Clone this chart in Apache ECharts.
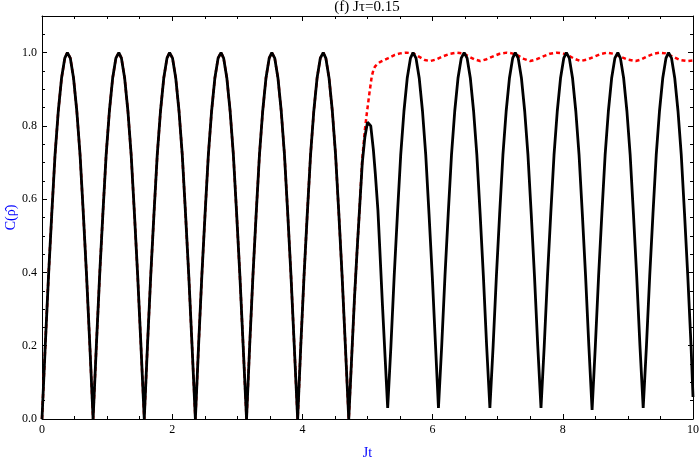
<!DOCTYPE html>
<html>
<head>
<meta charset="utf-8">
<script src="https://cdn.jsdelivr.net/npm/echarts@6/dist/echarts.min.js"></script>
<style>html,body{margin:0;padding:0;background:#fff;}#c{width:700px;height:457px;}</style>
</head>
<body>
<div id="c"></div>
<script>
// ---- data ----
var titleText = "(f) J\u03c4=0.15";
var xName = "Jt";
var yName = "C(\u03c1\u0302)";
var xTicks = [0, 2, 4, 6, 8, 10];
var yTicks = [0.0, 0.2, 0.4, 0.6, 0.8, 1.0];

// black solid curve: x positions and values
var blackX = [
  0, 0.05, 0.10, 0.15, 0.20, 0.25, 0.30, 0.35, 0.39, 0.435, 0.485, 0.535, 0.585, 0.635, 0.685, 0.735,
  0.785, 0.835, 0.885, 0.935, 0.985, 1.035, 1.085, 1.135, 1.18, 1.22, 1.27, 1.32, 1.37, 1.42, 1.47, 1.52,
  1.571, 1.62, 1.67, 1.72, 1.77, 1.82, 1.87, 1.92, 1.96, 2.005, 2.055, 2.105, 2.155, 2.205, 2.255, 2.305,
  2.356, 2.405, 2.455, 2.505, 2.555, 2.605, 2.655, 2.705, 2.75, 2.79, 2.84, 2.89, 2.94, 2.99, 3.04, 3.09,
  3.142, 3.19, 3.24, 3.29, 3.34, 3.39, 3.44, 3.49, 3.53, 3.575, 3.625, 3.675, 3.725, 3.775, 3.825, 3.875,
  3.927, 3.975, 4.025, 4.075, 4.125, 4.175, 4.225, 4.275, 4.32, 4.36, 4.41, 4.46, 4.51, 4.56, 4.61, 4.66,
  4.712, 4.76, 4.80, 4.84, 4.88, 4.92, 4.96, 5.00, 5.02, 5.05, 5.09, 5.12, 5.16, 5.19, 5.23, 5.27,
  5.31, 5.36, 5.41, 5.46, 5.51, 5.56, 5.61, 5.66, 5.70, 5.745, 5.795, 5.845, 5.895, 5.945, 5.995, 6.045,
  6.09, 6.14, 6.19, 6.24, 6.29, 6.34, 6.39, 6.44, 6.485, 6.53, 6.58, 6.63, 6.68, 6.73, 6.78, 6.83,
  6.88, 6.93, 6.98, 7.03, 7.08, 7.13, 7.18, 7.23, 7.27, 7.315, 7.365, 7.415, 7.465, 7.515, 7.565, 7.615,
  7.665, 7.715, 7.765, 7.815, 7.865, 7.915, 7.965, 8.015, 8.055, 8.10, 8.15, 8.20, 8.25, 8.30, 8.35, 8.40,
  8.45, 8.50, 8.55, 8.60, 8.65, 8.70, 8.75, 8.80, 8.845, 8.885, 8.935, 8.985, 9.035, 9.085, 9.135, 9.185,
  9.235, 9.285, 9.335, 9.385, 9.435, 9.485, 9.535, 9.585, 9.625, 9.67, 9.72, 9.77, 9.82, 9.87, 9.92, 9.97,
  10.0
];
var blackY = [
  0, 0.20, 0.39, 0.56, 0.72, 0.84, 0.93, 0.985, 1.0, 0.985, 0.93, 0.84, 0.72, 0.56, 0.39, 0.20,
  0, 0.20, 0.39, 0.56, 0.72, 0.84, 0.93, 0.985, 1.0, 0.985, 0.93, 0.84, 0.72, 0.56, 0.39, 0.20,
  0, 0.20, 0.39, 0.56, 0.72, 0.84, 0.93, 0.985, 1.0, 0.985, 0.93, 0.84, 0.72, 0.56, 0.39, 0.20,
  0, 0.20, 0.39, 0.56, 0.72, 0.84, 0.93, 0.985, 1.0, 0.985, 0.93, 0.84, 0.72, 0.56, 0.39, 0.20,
  0, 0.20, 0.39, 0.56, 0.72, 0.84, 0.93, 0.985, 1.0, 0.985, 0.93, 0.84, 0.72, 0.56, 0.39, 0.20,
  0, 0.20, 0.39, 0.56, 0.72, 0.84, 0.93, 0.985, 1.0, 0.985, 0.93, 0.84, 0.72, 0.56, 0.39, 0.20,
  0, 0.18, 0.33, 0.46, 0.58, 0.70, 0.77, 0.81, 0.815, 0.80, 0.735, 0.67, 0.57, 0.46, 0.31, 0.17,
  0.03, 0.20, 0.39, 0.56, 0.72, 0.84, 0.93, 0.985, 1.0, 0.985, 0.93, 0.84, 0.72, 0.56, 0.39, 0.20,
  0.03, 0.20, 0.39, 0.56, 0.72, 0.84, 0.93, 0.985, 1.0, 0.985, 0.93, 0.84, 0.72, 0.56, 0.39, 0.20,
  0.03, 0.20, 0.39, 0.56, 0.72, 0.84, 0.93, 0.985, 1.0, 0.985, 0.93, 0.84, 0.72, 0.56, 0.39, 0.20,
  0.03, 0.20, 0.39, 0.56, 0.72, 0.84, 0.93, 0.985, 1.0, 0.985, 0.93, 0.84, 0.72, 0.56, 0.39, 0.20,
  0.025, 0.20, 0.39, 0.56, 0.72, 0.84, 0.93, 0.985, 1.0, 0.985, 0.93, 0.84, 0.72, 0.56, 0.39, 0.20,
  0.03, 0.20, 0.39, 0.56, 0.72, 0.84, 0.93, 0.985, 1.0, 0.985, 0.93, 0.84, 0.72, 0.56, 0.39, 0.20,
  0.06
];

// red dashed curve: identical to black up to this x, then its own tail
var redSplitX = 4.88;
var redTailX = [4.92, 4.96, 4.99, 5.03, 5.065, 5.09, 5.115, 5.15, 5.19, 5.25, 5.32, 5.42, 5.50, 5.60, 5.70, 5.81, 5.88, 5.96,
  6.05, 6.16, 6.27, 6.38, 6.47, 6.55, 6.64, 6.73, 6.83, 6.93, 7.03, 7.14, 7.22, 7.30, 7.40, 7.50, 7.60, 7.70, 7.80, 7.91,
  8.00, 8.08, 8.18, 8.27, 8.37, 8.47, 8.58, 8.68, 8.78, 8.90, 9.00, 9.12, 9.20, 9.30, 9.40, 9.49, 9.58, 9.70, 9.80, 9.91, 10.0];
var redTailY = [0.71, 0.79, 0.835, 0.89, 0.935, 0.952, 0.962, 0.969, 0.974, 0.979, 0.985, 0.994, 0.998, 1.0, 0.998, 0.987, 0.980, 0.977,
  0.981, 0.990, 0.997, 1.0, 0.998, 0.990, 0.982, 0.977, 0.982, 0.990, 0.997, 1.0, 0.998, 0.993, 0.983, 0.977, 0.982, 0.990, 0.997, 1.0,
  0.998, 0.993, 0.983, 0.977, 0.981, 0.988, 0.996, 1.0, 0.997, 0.988, 0.981, 0.977, 0.981, 0.990, 0.997, 1.0, 0.998, 0.988, 0.980, 0.977, 0.979];

// ---- build ----
var blackData = blackX.map(function (x, i) { return [x, blackY[i]]; });
var redData = blackData.filter(function (p) { return p[0] <= redSplitX; })
  .concat(redTailX.map(function (x, i) { return [x, redTailY[i]]; }));

var serif = "Liberation Serif";
function axisBase(pos, showLabel, isX) {
  return {
    type: 'value', position: pos,
    min: isX ? xTicks[0] : yTicks[0],
    max: isX ? xTicks[xTicks.length - 1] : 1.1,
    interval: isX ? 2 : 0.2,
    axisLine: { show: true, onZero: false, lineStyle: { color: '#000', width: 1 } },
    axisTick: { show: true, inside: true, length: 5, lineStyle: { color: '#000', width: 1 } },
    minorTick: { show: true, splitNumber: 4, length: 3, lineStyle: { color: '#000', width: 1 } },
    splitLine: { show: false },
    axisLabel: {
      show: showLabel, color: '#000', fontFamily: serif, fontSize: 12, margin: 5,
      showMaxLabel: isX ? true : false,
      formatter: function (v) { return isX ? String(v) : v.toFixed(1); }
    }
  };
}
var xBottom = axisBase('bottom', true, true);
xBottom.name = xName; xBottom.nameLocation = 'middle'; xBottom.nameGap = 27;
xBottom.nameMoveOverlap = false;
xBottom.nameTextStyle = { color: '#0000ff', fontFamily: serif, fontSize: 14 };
var xTop = axisBase('top', false, true);
var yLeft = axisBase('left', true, false);
yLeft.name = yName; yLeft.nameLocation = 'middle'; yLeft.nameGap = 24; yLeft.nameRotate = 90;
yLeft.nameMoveOverlap = false;
yLeft.nameTextStyle = { color: '#0000ff', fontFamily: serif, fontSize: 14 };
var yRight = axisBase('right', false, false);

var chart = echarts.init(document.getElementById('c'), null, { renderer: 'canvas' });
chart.setOption({
  animation: false,
  backgroundColor: '#ffffff',
  title: {
    text: titleText, left: 367, top: 0, padding: 0, textAlign: 'center',
    textStyle: { fontFamily: serif, fontSize: 15, fontWeight: 'normal', color: '#000' }
  },
  grid: { left: 42, right: 7, top: 16, bottom: 38, containLabel: false, outerBoundsMode: 'none' },
  xAxis: [xBottom, xTop],
  yAxis: [yLeft, yRight],
  series: [
    {
      type: 'line', data: redData, showSymbol: false, symbol: 'none', xAxisIndex: 0, yAxisIndex: 0,
      lineStyle: { color: '#ff0000', width: 2.5, type: [4, 3] }, z: 2
    },
    {
      type: 'line', data: blackData, showSymbol: false, symbol: 'none', xAxisIndex: 0, yAxisIndex: 0,
      lineStyle: { color: '#000000', width: 2.8 }, z: 3
    }
  ]
});
</script>
</body>
</html>
